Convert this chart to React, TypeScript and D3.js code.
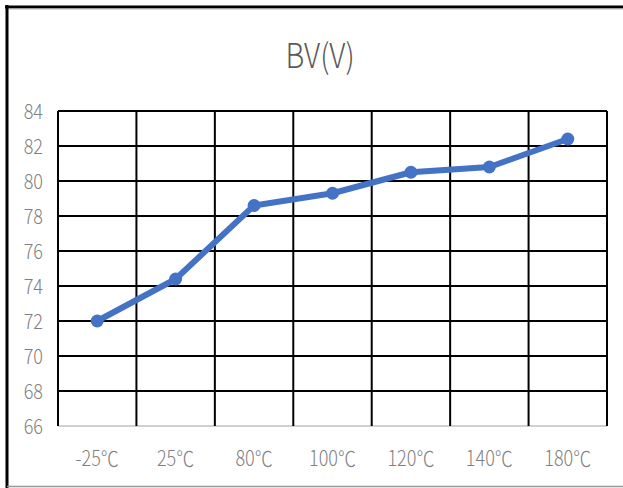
import * as d3 from "d3";

const categories = ["-25℃", "25℃", "80℃", "100℃", "120℃", "140℃", "180℃"];
const bvValues = [72.0, 74.4, 78.6, 79.3, 80.5, 80.8, 82.4];
const yTicks = [66, 68, 70, 72, 74, 76, 78, 80, 82, 84];

const W = 623;
const H = 488;
const plot = { left: 58, right: 607, top: 111, bottom: 426 };
const font = '"Noto Sans CJK SC", "Noto Sans", sans-serif';

// condensed-looking text like the reference
const Label = (props: {
  x: number;
  y: number;
  size: number;
  anchor: string;
  fill: string;
  sx?: number;
  children: any;
}) => (
  <text
    transform={`translate(${props.x},${props.y}) scale(${props.sx ?? 0.86},1)`}
    textAnchor={props.anchor}
    fontFamily={font}
    fontSize={props.size}
    fontWeight={300}
    fill={props.fill}
  >
    {props.children}
  </text>
);

export default function App() {
  const x = d3
    .scaleBand()
    .domain(categories)
    .range([plot.left, plot.right])
    .paddingInner(0)
    .paddingOuter(0);

  const y = d3.scaleLinear().domain([66, 84]).range([plot.bottom, plot.top]);

  const cx = (c: string) => (x(c) ?? 0) + x.bandwidth() / 2;

  const line = d3
    .line<number>()
    .x((_, i) => cx(categories[i]))
    .y((d) => y(d));

  const vLines = categories.map((c) => x(c) ?? 0).concat([plot.right]);

  return (
    <svg
      width={W}
      height={H}
      style={{ position: "absolute", left: 0, top: 0, background: "white" }}
    >
      {/* frame */}
      <line x1={5} x2={W} y1={7} y2={7} stroke="#000" strokeWidth={3} />
      <line x1={7} x2={W} y1={9} y2={9} stroke="#bbb" strokeWidth={1} />
      <line x1={7} x2={7} y1={5} y2={H} stroke="#000" strokeWidth={3} />
      <line x1={7} x2={W} y1={486.5} y2={486.5} stroke="#999" strokeWidth={1.5} />

      <Label x={320} y={68} size={34} anchor="middle" fill="#595959">
        BV(V)
      </Label>

      {/* horizontal grid */}
      {yTicks.map((t) => (
        <line
          key={"h" + t}
          x1={plot.left}
          x2={plot.right}
          y1={y(t)}
          y2={y(t)}
          stroke={t === 66 ? "#d0d0d0" : "#000"}
          strokeWidth={2}
        />
      ))}
      {/* vertical grid */}
      {vLines.map((vx, i) => (
        <line
          key={"v" + i}
          x1={vx}
          x2={vx}
          y1={plot.top}
          y2={plot.bottom}
          stroke="#000"
          strokeWidth={2}
        />
      ))}

      {yTicks.map((t) => (
        <Label key={"yl" + t} x={43} y={y(t) + 7.5} size={21} anchor="end" fill="#7f7f7f">
          {t}
        </Label>
      ))}

      {categories.map((c) => (
        <Label key={"xl" + c} x={cx(c)} y={466} size={21} anchor="middle" fill="#7f7f7f">
          {c}
        </Label>
      ))}

      <path
        d={line(bvValues) ?? ""}
        fill="none"
        stroke="#4472C4"
        strokeWidth={6}
        strokeLinejoin="round"
        strokeLinecap="round"
      />
      {bvValues.map((v, i) => (
        <circle key={"p" + i} cx={cx(categories[i])} cy={y(v)} r={6.5} fill="#4472C4" />
      ))}
    </svg>
  );
}
